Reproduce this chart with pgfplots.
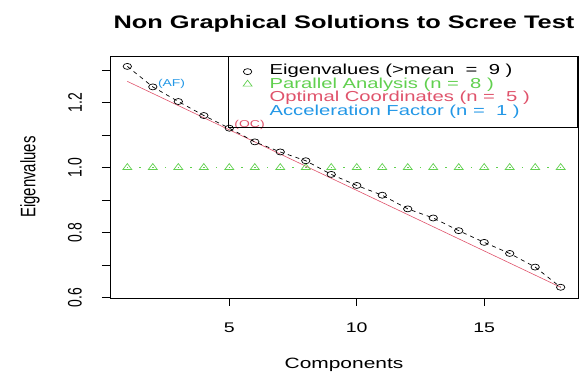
\documentclass[border=0pt]{standalone}
\usepackage{pgfplots}
\pgfplotsset{compat=1.18}
\usepackage{fontspec}
\setmainfont[FakeStretch=1.4]{Liberation Sans}
\newfontfamily\plainfont{Liberation Sans}
\definecolor{rgreen}{HTML}{61D04F}
\definecolor{rred}{HTML}{DF536B}
\definecolor{rblue}{HTML}{2297E6}
\newcommand{\ylab}[1]{\scalebox{1}[1.4]{\plainfont #1}}
\begin{document}
\begin{tikzpicture}
\path[use as bounding box] (0,0) rectangle (587bp,379bp);
\begin{axis}[
  at={(110bp,81bp)}, anchor=south west,
  scale only axis, width=468bp, height=242bp,
  xmin=0.32, xmax=18.68, ymin=0.599, ymax=1.343,
  axis line style={line width=0.8bp},
  xtick={5,10,15},
  ytick={0.6,0.7,0.8,0.9,1.0,1.1,1.2,1.3},
  yticklabels={{\ylab{0.6}},,{\ylab{0.8}},,{\ylab{1.0}},,{\ylab{1.2}},},
  xtick pos=bottom, ytick pos=left, tick align=outside,
  major tick length=8bp,
  tick style={black, line width=0.8bp},
  /pgf/number format/assume math mode=true,
  ticklabel style={font=\fontsize{14}{14}\selectfont},
  yticklabel style={xshift=-27bp, rotate=90, anchor=center, inner sep=0pt},
  xticklabel style={anchor=north, inner sep=0pt, yshift=-17bp},
  xlabel={Components},
  every axis x label/.style={at={(rel axis cs:0.5,0)}, anchor=center, yshift=-67bp, font=\fontsize{15}{15}\selectfont},
  ylabel={\scalebox{1}[1.4]{\plainfont Eigenvalues}},
  every axis y label/.style={at={(rel axis cs:0,0.5)}, xshift=-80bp, rotate=90, anchor=center, font=\fontsize{15}{15}\selectfont},
  title={Non Graphical Solutions to Scree Test},
  every axis title/.style={at={(rel axis cs:0.5,1)}, anchor=center, yshift=32bp, font=\bfseries\fontsize{18.2}{18.2}\selectfont},
  legend style={at={(rel axis cs:1,1)}, anchor=north east, draw=black, fill=none, line width=0.8bp,
    font=\fontsize{14.5}{14.5}\selectfont, row sep=0pt, column sep=10bp,
    inner xsep=7bp, inner ysep=8.5bp,
    nodes={inner sep=0pt, text height=10bp, text depth=3.5bp}},
  legend cell align=left,
]
\addlegendimage{legend image code/.code={\path[draw=none] (0bp,0bp) -- (24bp,0bp); \draw[black, line width=0.7bp] plot[only marks, mark=o, mark size=3bp, mark options={xscale=1.4}] coordinates {(12bp,0bp)};}}
\addlegendentry{\makebox[301bp][l]{Eigenvalues (>mean \ = \ 9 )}}
\addlegendimage{legend image code/.code={\path[draw=none] (0bp,0bp) -- (24bp,0bp); \draw[rgreen, line width=0.7bp] plot[only marks, mark=triangle, mark size=4bp, mark options={xscale=1.3}] coordinates {(12bp,1bp)};}}
\addlegendentry{\textcolor{rgreen}{Parallel Analysis (n = \ 8 )}}
\addlegendimage{legend image code/.code={\path[draw=none] (0bp,0bp) -- (24bp,0bp);}}
\addlegendentry{\textcolor{rred}{Optimal Coordinates (n = \ 5 )}}
\addlegendimage{legend image code/.code={\path[draw=none] (0bp,0bp) -- (24bp,0bp);}}
\addlegendentry{\textcolor{rblue}{Acceleration Factor (n = \ 1 )}}

\addplot[forget plot, rred, line width=0.6bp] coordinates {(1,1.265) (18,0.632)};
\addplot[forget plot, rgreen, line width=0.9bp, dash pattern=on 1.2bp off 11.545bp, dash phase=0.6bp, mark=triangle, mark size=4bp, mark options={solid, fill=white, xscale=1.3, line width=0.7bp}] coordinates {
(1,1.0) (2,1.0) (3,1.0) (4,1.0) (5,1.0) (6,1.0) (7,1.0) (8,1.0) (9,1.0)
(10,1.0) (11,1.0) (12,1.0) (13,1.0) (14,1.0) (15,1.0) (16,1.0) (17,1.0) (18,1.0)};
\addplot[forget plot, black, line width=0.7bp, dash pattern=on 4bp off 4bp, mark=o, mark size=3bp, mark options={solid, fill=white, xscale=1.4}] coordinates {
(1,1.311) (2,1.248) (3,1.203) (4,1.160) (5,1.121) (6,1.079) (7,1.048) (8,1.021) (9,0.979)
(10,0.945) (11,0.915) (12,0.873) (13,0.845) (14,0.806) (15,0.770) (16,0.736) (17,0.694) (18,0.632)};
\node[anchor=west, text=rblue, font=\fontsize{10}{10}\selectfont, inner sep=0pt] at (axis cs:2,1.248) [xshift=5bp, yshift=3bp] {(AF)};
\node[anchor=west, text=rred, font=\fontsize{10}{10}\selectfont, inner sep=0pt] at (axis cs:5,1.121) [xshift=5bp, yshift=3bp] {(OC)};
\end{axis}
\end{tikzpicture}
\end{document}
